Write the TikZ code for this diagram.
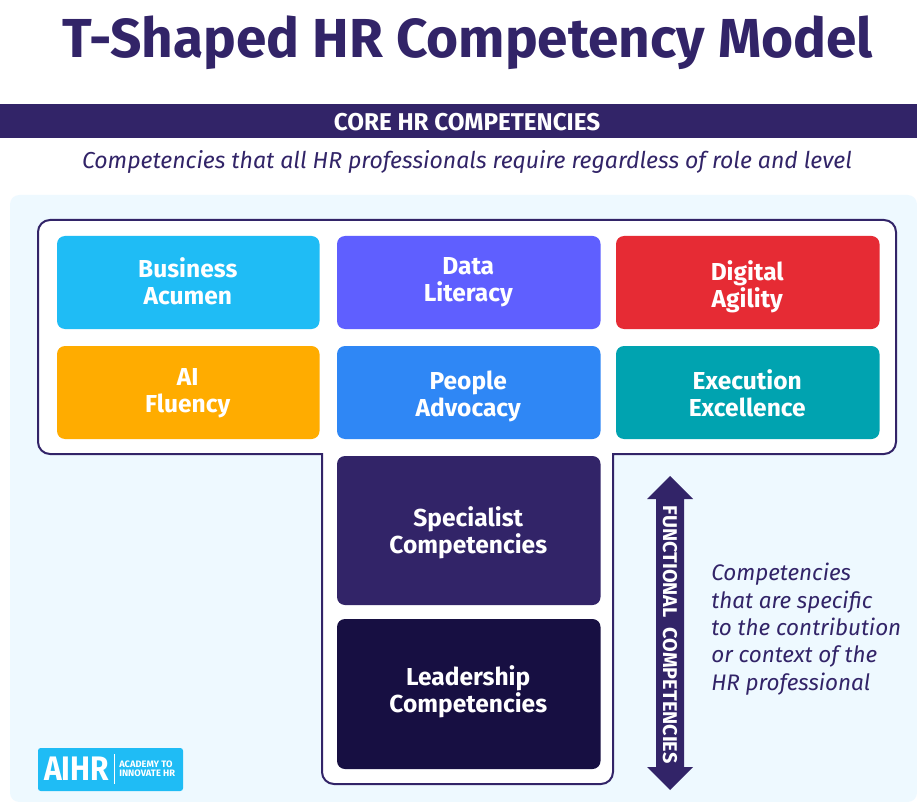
\documentclass[tikz,border=0pt]{standalone}
\usepackage{fontspec}
\setmainfont{Fira Sans}
\definecolor{navy}{HTML}{322468}
\definecolor{deep}{HTML}{170F42}
\definecolor{panel}{HTML}{EEF9FF}
\definecolor{sky}{HTML}{1FBCF5}
\definecolor{violet}{HTML}{5F5FFF}
\definecolor{redc}{HTML}{E62B34}
\definecolor{amber}{HTML}{FFAC00}
\definecolor{bluec}{HTML}{2F87F5}
\definecolor{teal}{HTML}{00A3B0}
\tikzset{
  card/.style={rounded corners=6pt,inner sep=0pt,draw=none},
  cardtext/.style={text=white,align=center,inner sep=0pt,font=\fontsize{18.4}{20.25}\selectfont\bfseries},
  italtext/.style={text=navy,inner sep=0pt,font=\fontsize{16.85}{20.5}\selectfont\itshape},
}
\newcommand{\cardbox}[8]{% name,x0,y0,x1,y1,colour,texty,text
  \fill[card,fill=#6] (#2,#3) rectangle (#4,#5);
  \node[cardtext] (#1) at ({(#2+#4)/2-0.5},#7) {#8};
}
\begin{document}
\begin{tikzpicture}[x=0.75pt,y=-0.75pt]
\useasboundingbox (0,0) rectangle (917,802);
\fill[white] (0,0) rectangle (917,802);
\node[text=navy,inner sep=0pt,font=\fontsize{41.2}{44}\selectfont\bfseries] (title) at (468,43) {T-Shaped HR Competency Model};
\fill[navy] (0,104) rectangle (917,138);
\node[text=white,inner sep=0pt,font=\fontsize{18.2}{20}\selectfont\bfseries] (core) at (467,122) {CORE HR COMPETENCIES};
\node[italtext,font=\fontsize{17.3}{20}\selectfont\itshape] (sub) at (467,162) {Competencies that all HR professionals require regardless of role and level};
\fill[panel,rounded corners=7pt] (10,195) rectangle (917,802);
\draw[navy,line width=1.5pt,fill=white]
  (50,220) -- (884,220) .. controls (890.6,220) and (896,225.4) .. (896,232)
  -- (896,442) .. controls (896,448.6) and (890.6,454) .. (884,454)
  -- (613,454) -- (613,772) .. controls (613,778.6) and (607.6,784) .. (601,784)
  -- (334,784) .. controls (327.4,784) and (322,778.6) .. (322,772)
  -- (322,454) -- (50,454) .. controls (43.4,454) and (38,448.6) .. (38,442)
  -- (38,232) .. controls (38,225.4) and (43.4,220) .. (50,220) -- cycle;
\cardbox{acumen}{57}{236}{319.5}{329}{sky}{281.5}{Business\\Acumen}
\cardbox{data}{337}{236}{600.5}{329}{violet}{282.5}{Data\\Literacy}
\cardbox{digital}{616}{236}{879.5}{329}{redc}{286.5}{Digital\\Agility}
\cardbox{ai}{57}{346}{319.5}{439}{amber}{393.5}{AI\\Fluency}
\cardbox{people}{337}{346}{600.5}{439}{bluec}{396.5}{People\\Advocacy}
\cardbox{exec}{616}{346}{879.5}{439}{teal}{393}{Execution\\Excellence}
\cardbox{spec}{337}{456}{600.5}{605}{navy}{532.5}{Specialist\\Competencies}
\cardbox{lead}{337}{619}{600.5}{769}{deep}{691.5}{Leadership\\Competencies}
\fill[navy] (670,476) -- (693,499) -- (684,499) -- (684,767) -- (693,767) -- (670,790) -- (647,767) -- (656,767) -- (656,499) -- (647,499) -- cycle;
\node[text=white,inner sep=0pt,rotate=-90,font=\fontsize{14.9}{15}\selectfont\bfseries] (func) at (670,634.5) {FUNCTIONAL\hspace{0.5em}COMPETENCIES};
\node[italtext,anchor=north west,align=left] (desc) at (711,563) {Competencies\\that are specific\\to the contribution\\or context of the\\HR professional};
\fill[sky,rounded corners=2pt] (38,748) rectangle (183,791);
\node[text=white,inner sep=0pt,xscale=0.88,font=\fontsize{25.5}{30}\selectfont\bfseries] (aihr) at (76.5,769) {AIHR};
\draw[white,line width=0.6pt] (114,754) -- (114,784);
\node[text=white,inner sep=0pt,anchor=west,align=left,font=\fontsize{7}{7}\selectfont\bfseries] (acad) at (119,769) {ACADEMY TO\\INNOVATE HR};
\end{tikzpicture}
\end{document}
